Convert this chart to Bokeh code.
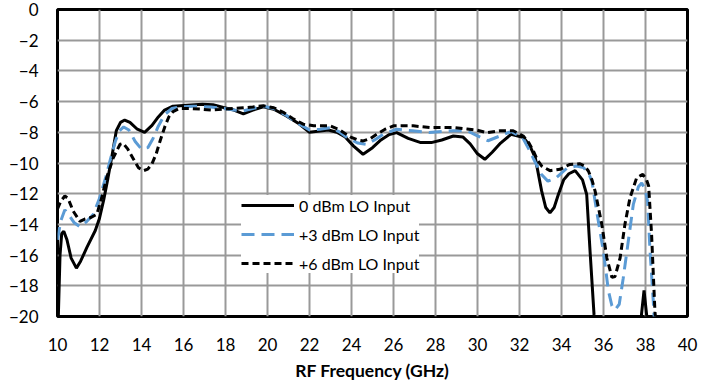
from bokeh.plotting import figure
from bokeh.models import Range1d, FixedTicker, Legend, LegendItem
from bokeh.embed import file_html
from bokeh.resources import INLINE

# ---- data (RF frequency in GHz, conversion gain in dB) ----
x_0dbm = [10.02, 10.12, 10.2, 10.3, 10.45, 10.65, 10.9, 11.1, 11.4, 11.8, 12.0, 12.2, 12.4,
          12.6, 12.8, 13.0, 13.2, 13.45, 13.8, 14.15, 14.5, 14.8, 15.1, 15.5, 16.0, 16.9,
          17.4, 17.9, 18.4, 18.85, 19.3, 19.8, 20.3, 20.9, 21.5, 22.0, 22.5, 22.9, 23.3,
          23.7, 24.1, 24.55, 25.0, 25.4, 25.8, 26.15, 26.7, 27.3, 27.8, 28.3, 28.85, 29.3,
          29.65, 30.0, 30.35, 30.7, 31.1, 31.6, 32.2, 32.5, 32.75, 33.05, 33.25, 33.45,
          33.65, 33.85, 34.1, 34.35, 34.65, 35.0, 35.2, 35.36, 35.55, 35.65, 35.8, 37.6,
          37.76, 37.93, 38.1, 38.25]
y_0dbm = [-21.0, -16.0, -14.6, -14.45, -15.0, -16.2, -16.85, -16.4, -15.5, -14.4, -13.6, -12.4,
          -11.0, -9.5, -7.9, -7.35, -7.2, -7.35, -7.8, -8.0, -7.55, -7.0, -6.55, -6.3, -6.25,
          -6.17, -6.2, -6.38, -6.55, -6.8, -6.55, -6.34, -6.5, -6.93, -7.45, -8.0, -7.92,
          -7.85, -8.0, -8.3, -8.9, -9.43, -9.0, -8.5, -8.15, -8.02, -8.4, -8.67, -8.67, -8.5,
          -8.24, -8.3, -8.75, -9.4, -9.76, -9.3, -8.7, -8.13, -8.35, -8.9, -9.65, -11.8,
          -12.9, -13.25, -12.9, -12.05, -11.1, -10.7, -10.5, -11.1, -12.05, -15.75, -19.9,
          -21.0, -30.0, -30.0, -20.5, -18.3, -20.5, -30.0]

x_3dbm = [10.0, 10.15, 10.35, 10.55, 10.8, 11.07, 11.4, 11.7, 12.0, 12.3, 12.55, 12.75, 12.95,
          13.15, 13.4, 13.7, 14.0, 14.3, 14.55, 14.8, 15.1, 15.45, 15.8, 16.5, 17.3, 17.9,
          18.4, 18.85, 19.3, 19.8, 20.3, 20.9, 21.5, 22.0, 22.5, 23.0, 23.4, 23.8, 24.3, 24.7,
          25.1, 25.5, 26.15, 26.9, 27.7, 28.3, 28.85, 29.5, 29.95, 30.5, 31.05, 31.6, 32.15,
          32.45, 32.75, 33.05, 33.35, 33.75, 34.25, 34.7, 35.05, 35.3, 35.45, 35.67, 36.0,
          36.23, 36.4, 36.55, 36.75, 36.94, 37.18, 37.42, 37.66, 37.82, 37.98, 38.1, 38.21,
          38.37, 38.45, 38.6]
y_3dbm = [-15.0, -13.8, -13.05, -13.4, -13.9, -14.15, -13.8, -13.35, -12.3, -10.9, -9.6, -8.6,
          -7.9, -7.65, -7.85, -8.6, -9.1, -9.0, -8.4, -7.6, -6.85, -6.45, -6.35, -6.3, -6.35,
          -6.45, -6.55, -6.6, -6.45, -6.3, -6.45, -6.9, -7.45, -7.85, -7.8, -7.7, -7.95, -8.35,
          -8.7, -8.78, -8.5, -8.13, -7.8, -7.9, -8.02, -7.95, -7.9, -7.9, -8.2, -8.55, -8.25,
          -7.95, -8.35, -9.1, -9.95, -10.75, -11.18, -10.96, -10.35, -10.2, -10.3, -10.7,
          -11.2, -13.1, -15.8, -18.3, -19.3, -19.56, -19.2, -17.5, -15.1, -12.7, -11.55,
          -11.3, -11.7, -12.5, -15.6, -19.0, -21.0, -30.0]

x_6dbm = [10.0, 10.15, 10.35, 10.5, 10.75, 11.07, 11.3, 11.55, 11.87, 12.1, 12.34, 12.66, 12.98,
          13.13, 13.35, 13.6, 13.85, 14.09, 14.3, 14.5, 14.7, 14.9, 15.12, 15.3, 15.5, 15.8,
          16.3, 16.8, 17.3, 17.9, 18.4, 18.85, 19.3, 19.8, 20.3, 20.75, 21.2, 21.7, 22.2,
          22.98, 23.45, 23.93, 24.3, 24.56, 24.9, 25.2, 25.6, 26.0, 26.94, 27.74, 28.85, 29.5,
          29.96, 30.44, 31.07, 31.7, 32.18, 32.45, 32.66, 32.85, 33.06, 33.45, 33.93, 34.4,
          34.88, 35.1, 35.28, 35.45, 35.6, 35.92, 36.16, 36.4, 36.55, 36.79, 37.02, 37.26,
          37.58, 37.87, 38.05, 38.15, 38.29, 38.45, 38.55, 38.7]
y_6dbm = [-13.0, -12.5, -12.15, -12.3, -13.14, -13.8, -13.65, -13.57, -13.35, -12.3, -10.96,
          -9.65, -8.78, -8.72, -9.1, -9.7, -10.3, -10.5, -10.4, -10.05, -9.4, -8.5, -7.6, -7.0,
          -6.65, -6.45, -6.45, -6.49, -6.55, -6.5, -6.45, -6.4, -6.35, -6.27, -6.4, -6.7, -7.1,
          -7.47, -7.58, -7.58, -7.85, -8.3, -8.5, -8.56, -8.4, -8.13, -7.8, -7.58, -7.58, -7.69,
          -7.69, -7.78, -7.85, -8.02, -7.9, -7.9, -8.24, -8.7, -9.22, -9.8, -10.2, -10.5,
          -10.41, -10.09, -10.05, -10.2, -10.52, -11.1, -11.83, -14.0, -16.19, -17.45, -17.39,
          -16.19, -14.0, -12.27, -10.96, -10.74, -11.1, -11.5, -14.66, -19.7, -21.0, -30.0]

x_ticks = list(range(10, 41, 2))
y_ticks = list(range(-20, 1, 2))
series_labels = ["0 dBm LO Input", "+3 dBm LO Input", "+6 dBm LO Input"]
x_title = "RF Frequency (GHz)"

FONT = "Lato"

p = figure(width=706, height=384, output_backend="svg", toolbar_location=None,
           x_range=Range1d(10, 40), y_range=Range1d(-20, 0),
           min_border_left=57, min_border_right=19, min_border_top=9, min_border_bottom=68)
p.background_fill_color = "white"
p.border_fill_color = "white"
p.outline_line_color = "black"
p.outline_line_width = 3

for ax in (p.xaxis[0], p.yaxis[0]):
    ax.major_tick_in = 0
    ax.major_tick_out = 0
    ax.minor_tick_in = 0
    ax.minor_tick_out = 0
    ax.axis_line_color = None
    ax.major_label_text_font = FONT
    ax.major_label_text_font_size = "17px"
    ax.major_label_text_color = "black"

p.xaxis.ticker = FixedTicker(ticks=x_ticks)
p.yaxis.ticker = FixedTicker(ticks=y_ticks)
p.xaxis.major_label_standoff = 21
p.yaxis.major_label_standoff = 19
p.xaxis.axis_label = x_title
p.xaxis.axis_label_text_font = FONT
p.xaxis.axis_label_text_font_style = "bold"
p.xaxis.axis_label_text_font_size = "17.5px"
p.xaxis.axis_label_text_color = "black"
p.xaxis.axis_label_standoff = 6

p.xgrid.ticker = FixedTicker(ticks=x_ticks)
p.ygrid.ticker = FixedTicker(ticks=y_ticks)
for g in (p.xgrid[0], p.ygrid[0]):
    g.grid_line_color = "#999999"
    g.grid_line_width = 2

r0 = p.line(x_0dbm, y_0dbm, line_color="black", line_width=3)
r3 = p.line(x_3dbm, y_3dbm, line_color="#5B9BD5", line_width=3, line_dash="13 7")
r6 = p.line(x_6dbm, y_6dbm, line_color="black", line_width=3, line_dash="7 4")

legend = Legend(items=[LegendItem(label=series_labels[0], renderers=[r0]),
                       LegendItem(label=series_labels[1], renderers=[r3]),
                       LegendItem(label=series_labels[2], renderers=[r6])],
                location=(184, 43))
legend.label_text_font = FONT
legend.label_text_font_size = "16px"
legend.label_text_color = "black"
legend.label_height = 20
legend.glyph_height = 20
legend.glyph_width = 53
legend.spacing = 9
legend.padding = 8
legend.margin = 0
legend.label_standoff = 5
legend.border_line_color = None
legend.background_fill_color = "white"
legend.background_fill_alpha = 1.0
p.add_layout(legend)

open("out.html", "w").write(file_html(p, INLINE))
